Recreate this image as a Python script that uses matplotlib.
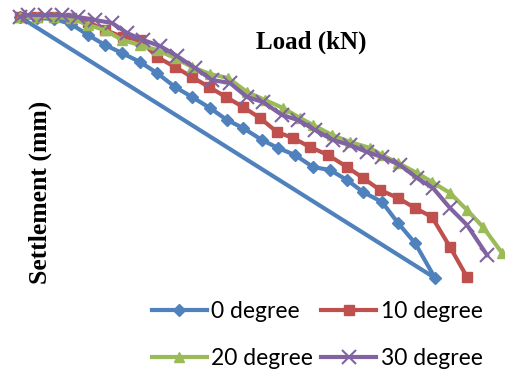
import matplotlib.pyplot as plt

# load (kN) / settlement (mm)
load_0 = [0, 34, 68, 102, 136, 170, 204, 240, 274, 310, 344, 380, 414, 446, 484, 516, 550, 586, 620, 654, 686, 724, 756, 790, 830]
sett_0 = [0, 0.1, 0.2, 0.7, 1.8, 2.8, 3.6, 4.5, 5.6, 7.0, 8.0, 9.1, 10.3, 11.1, 12.3, 13.1, 13.8, 15.0, 15.3, 16.3, 17.5, 18.5, 20.6, 22.6, 26.1]
# unloading branch of the 0 degree test
unload_0 = [830, 0]
unload_sett_0 = [26.1, 0]

load_10 = [0, 34, 68, 102, 136, 170, 206, 240, 274, 310, 344, 378, 412, 446, 480, 514, 546, 580, 616, 654, 686, 720, 756, 790, 824, 860, 894]
sett_10 = [0, 0, 0, 0.1, 0.5, 1.3, 2.0, 2.3, 4.0, 5.0, 6.0, 7.0, 8.0, 9.0, 10.1, 11.5, 12.1, 13.0, 13.8, 15.0, 16.1, 17.3, 18.1, 19.1, 20.0, 23.0, 26.0]

load_20 = [0, 34, 68, 102, 136, 170, 204, 240, 274, 310, 344, 380, 416, 454, 490, 526, 560, 586, 624, 660, 700, 724, 756, 794, 824, 860, 894, 926, 964]
sett_20 = [0, 0, 0, 0.1, 0.8, 1.3, 2.3, 2.8, 3.3, 4.1, 5.0, 5.7, 6.1, 7.5, 8.3, 9.1, 10.1, 10.8, 11.8, 12.5, 13.1, 13.8, 14.6, 15.6, 16.5, 17.6, 19.3, 21.0, 23.6]

load_30 = [0, 16, 50, 84, 116, 150, 184, 214, 246, 280, 314, 350, 384, 420, 454, 486, 524, 556, 590, 626, 660, 694, 724, 760, 794, 826, 860, 894, 934]
sett_30 = [0, -0.2, -0.2, -0.2, 0, 0.3, 0.6, 1.6, 2.3, 2.9, 3.9, 5.1, 6.3, 6.6, 8.0, 8.5, 9.8, 10.3, 11.3, 12.3, 12.8, 13.5, 14.0, 14.8, 16.1, 17.1, 19.1, 20.8, 23.8]

labels = ['0 degree', '10 degree', '20 degree', '30 degree']
colors = ['#4F81BD', '#C0504D', '#9BBB59', '#8064A2']

fig = plt.figure(figsize=(5.06, 3.73), dpi=100)
ax = fig.add_axes([20 / 506, 1 - 287 / 373, 485 / 506, 270 / 373])

n0 = len(load_0)
l0, = ax.plot(load_0 + unload_0, sett_0 + unload_sett_0, color=colors[0], lw=3, marker='D', ms=6.5,
              markevery=list(range(n0)), label=labels[0], clip_on=False, zorder=3)
l1, = ax.plot(load_10, sett_10, color=colors[1], lw=3, marker='s', ms=7.5, label=labels[1], clip_on=False, zorder=3)
l2, = ax.plot(load_20, sett_20, color=colors[2], lw=3, marker='^', ms=7.5, label=labels[2], clip_on=False, zorder=3)
l3, = ax.plot(load_30, sett_30, color=colors[3], lw=3, marker='x', ms=10, mew=1.5, label=labels[3], clip_on=False, zorder=4)

ax.set_xlim(0, 970)
ax.set_ylim(27, 0)
ax.set_axis_off()

fig.text(311 / 506, 1 - 42 / 373, 'Load (kN)', ha='center', va='center',
         family='Liberation Serif', weight='bold', fontsize=18)
fig.text(40 / 506, 1 - 192 / 373, 'Settlement (mm)', ha='center', va='center', rotation=90,
         family='Liberation Serif', weight='bold', fontsize=18.5)

# legend is filled column by column, so order it to read row by row
fig.legend([l0, l2, l1, l3], [labels[0], labels[2], labels[1], labels[3]],
           loc='center', bbox_to_anchor=(317 / 506, 1 - 335 / 373), ncol=2, frameon=False,
           prop={'family': 'Lato', 'size': 16.5}, handlelength=2.4, handletextpad=0.2,
           columnspacing=0.35, labelspacing=1.12, borderaxespad=0)

fig.savefig('out.png', dpi=100)
